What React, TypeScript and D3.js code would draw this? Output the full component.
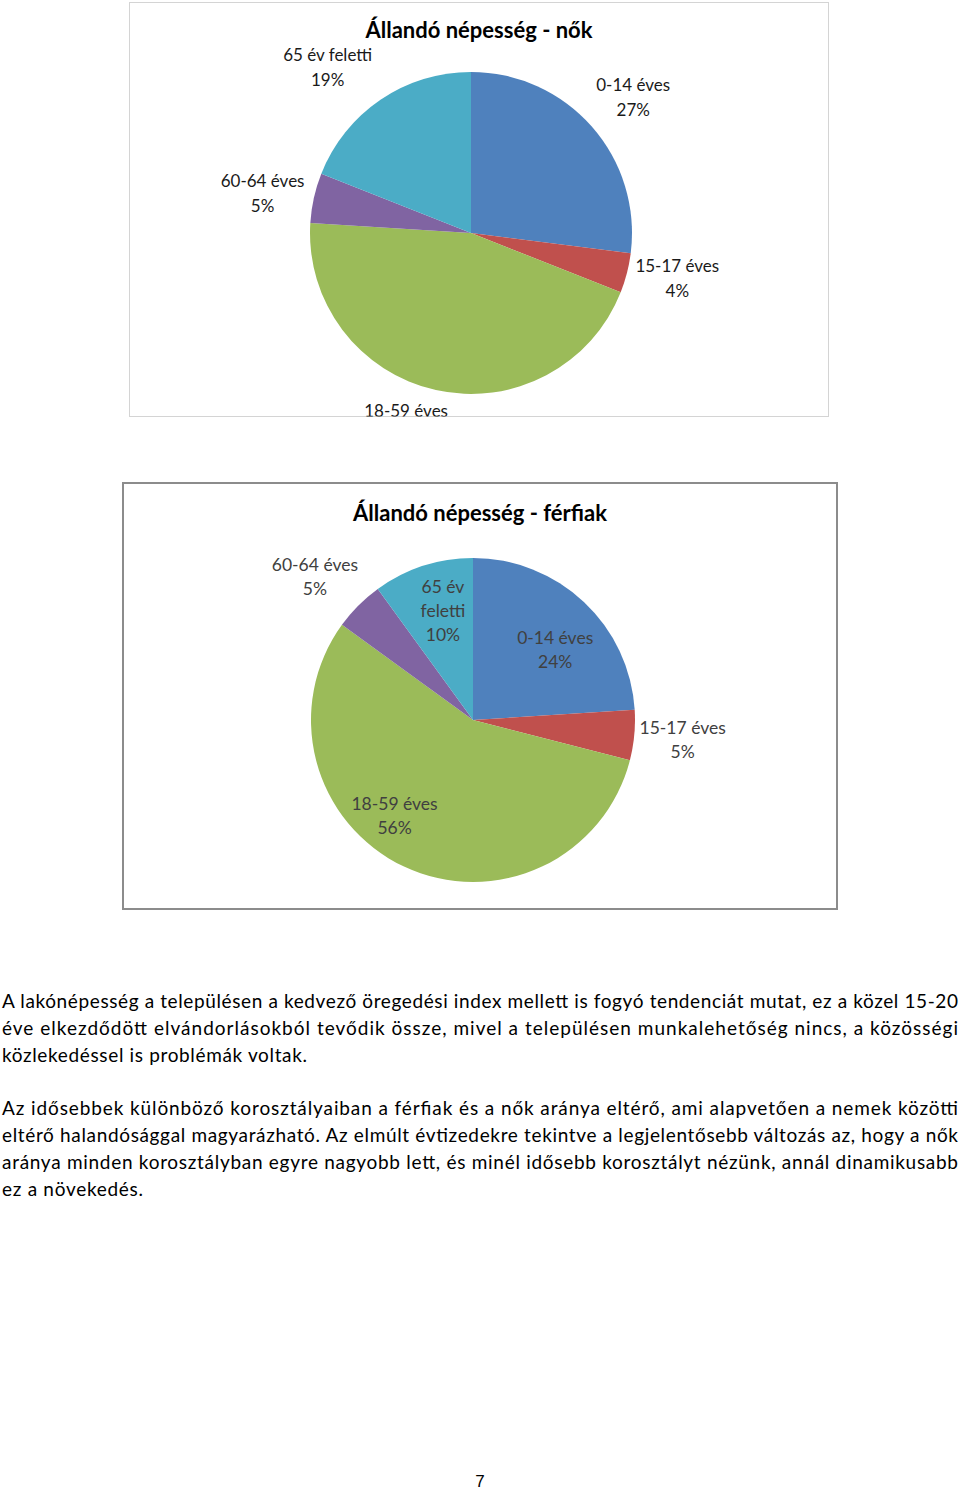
import React from "react";
import * as d3 from "d3";

const categories = ["0-14 éves", "15-17 éves", "18-59 éves", "60-64 éves", "65 év feletti"];
const womenValues = [27, 4, 45, 5, 19];
const menValues = [24, 5, 56, 5, 10];
const colors = ["#4F81BD", "#C0504D", "#9BBB59", "#8064A2", "#4BACC6"];

const womenTitle = "Állandó népesség - nők";
const menTitle = "Állandó népesség - férfiak";

const paragraph1 = [
  "A lakónépesség a településen a kedvező öregedési index mellett is fogyó tendenciát mutat, ez a közel 15-20",
  "éve elkezdődött elvándorlásokból tevődik össze, mivel a településen munkalehetőség nincs, a közösségi",
  "közlekedéssel is problémák voltak.",
];
const paragraph2 = [
  "Az idősebbek különböző korosztályaiban a férfiak és a nők aránya eltérő, ami alapvetően a nemek közötti",
  "eltérő halandósággal magyarázható. Az elmúlt évtizedekre tekintve a legjelentősebb változás az, hogy a nők",
  "aránya minden korosztályban egyre nagyobb lett, és minél idősebb korosztályt nézünk, annál dinamikusabb",
  "ez a növekedés.",
];
const pageNumber = "7";

const FONT = "Lato, 'Open Sans', sans-serif";

type LabelLayout = { k: number; dx: number; dy: number; lines?: string[] };

type PieProps = {
  id: string;
  title: string;
  values: number[];
  frame: { x: number; y: number; w: number; h: number; stroke: string; sw: number };
  cx: number;
  cy: number;
  r: number;
  titleY: number;
  titleSize: number;
  labelSize: number;
  labelColor: string;
  lineGap: number;
  layout: LabelLayout[];
};

function Pie(p: PieProps) {
  const pie = d3
    .pie<number>()
    .sort(null)
    .value((d) => d)
    .startAngle(0)
    .endAngle(2 * Math.PI);
  const arcs = pie(p.values);
  const arc = d3.arc<d3.PieArcDatum<number>>().innerRadius(0).outerRadius(p.r);
  const total = d3.sum(p.values);
  const fmt = d3.format(".0%");
  const clipId = `clip-${p.id}`;
  return (
    <g>
      <defs>
        <clipPath id={clipId}>
          <rect x={p.frame.x} y={p.frame.y} width={p.frame.w} height={p.frame.h} />
        </clipPath>
      </defs>
      <rect
        x={p.frame.x}
        y={p.frame.y}
        width={p.frame.w}
        height={p.frame.h}
        fill="#fff"
        stroke={p.frame.stroke}
        strokeWidth={p.frame.sw}
      />
      <text
        x={(p.frame.x + p.frame.x + p.frame.w) / 2}
        y={p.titleY}
        textAnchor="middle"
        fontFamily={FONT}
        fontWeight={700}
        fontSize={p.titleSize}
        fill="#000"
      >
        {p.title}
      </text>
      <g transform={`translate(${p.cx},${p.cy})`}>
        {arcs.map((a, i) => (
          <path key={i} d={arc(a) || ""} fill={colors[i]} />
        ))}
      </g>
      <g clipPath={`url(#${clipId})`}>
        {arcs.map((a, i) => {
          const L = p.layout[i];
          const la = d3
            .arc<d3.PieArcDatum<number>>()
            .innerRadius(p.r * L.k)
            .outerRadius(p.r * L.k);
          const [x0, y0] = la.centroid(a);
          const lines = [...(L.lines || [categories[i]])];
          lines.push(fmt(a.data / total));
          const x = p.cx + x0 + L.dx;
          const y = p.cy + y0 + L.dy;
          const n = lines.length;
          return (
            <text
              key={i}
              x={x}
              textAnchor="middle"
              fontFamily={FONT}
              fontSize={p.labelSize}
              fill={p.labelColor}
            >
              {lines.map((t, j) => (
                <tspan key={j} x={x} y={y + (j - (n - 1) / 2) * p.lineGap + p.labelSize * 0.35}>
                  {t}
                </tspan>
              ))}
            </text>
          );
        })}
      </g>
    </g>
  );
}

function Para({ lines, y0, gap, width }: { lines: string[]; y0: number; gap: number; width: number[] }) {
  return (
    <g>
      {lines.map((t, i) => (
        <text
          key={i}
          x={2}
          y={y0 + i * gap}
          fontFamily={FONT}
          fontSize={19}
          fill="#000"
          textLength={width[i]}
          lengthAdjust="spacing"
        >
          {t}
        </text>
      ))}
    </g>
  );
}

export default function App() {
  const womenLayout: LabelLayout[] = [
    { k: 1.31, dx: 4, dy: 4 },
    { k: 1.31, dx: 2, dy: -7 },
    { k: 1.25, dx: -21, dy: -6 },
    { k: 1.32, dx: -1, dy: 7 },
    { k: 1.33, dx: -23, dy: 12 },
  ];
  const menLayout: LabelLayout[] = [
    { k: 0.66, dx: 9, dy: 8 },
    { k: 1.3, dx: 0, dy: 0 },
    { k: 0.76, dx: -26, dy: -16 },
    { k: 1.31, dx: -8, dy: 7 },
    { k: 0.7, dx: 5, dy: -1, lines: ["65 év", "feletti"] },
  ];
  return (
    <div style={{ position: "absolute", left: 0, top: 0 }}>
      <svg width={960} height={1493} style={{ display: "block" }}>
        <rect x={0} y={0} width={960} height={1493} fill="#fff" />
        <Pie
          id="women"
          title={womenTitle}
          values={womenValues}
          frame={{ x: 129.5, y: 2.5, w: 699, h: 414, stroke: "#d4d4d4", sw: 1 }}
          cx={471}
          cy={233}
          r={161}
          titleY={38}
          titleSize={22}
          labelSize={17}
          labelColor="#1a1a1a"
          lineGap={25}
          layout={womenLayout}
        />
        <Pie
          id="men"
          title={menTitle}
          values={menValues}
          frame={{ x: 123, y: 483, w: 714, h: 426, stroke: "#8c8c8c", sw: 2 }}
          cx={473}
          cy={720}
          r={162}
          titleY={521}
          titleSize={22}
          labelSize={17.5}
          labelColor="#404040"
          lineGap={24}
          layout={menLayout}
        />
        <Para lines={paragraph1} y0={1008} gap={27} width={[956, 956, 305]} />
        <Para lines={paragraph2} y0={1115} gap={27} width={[956, 956, 956, 141]} />
        <text x={480} y={1487} textAnchor="middle" fontFamily="'Liberation Sans', Arial, sans-serif" fontSize={17} fill="#000">
          {pageNumber}
        </text>
      </svg>
    </div>
  );
}
